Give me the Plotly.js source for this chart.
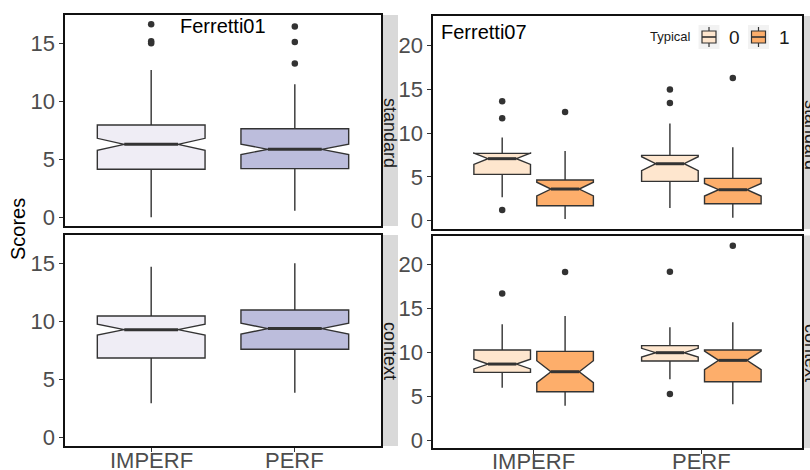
<!DOCTYPE html>
<html>
<head>
<meta charset="utf-8">
<script src="https://cdn.plot.ly/plotly-3.0.1.min.js"></script>
<style>html,body{margin:0;padding:0;background:#fff;}#chart{width:810px;height:470px;}</style>
</head>
<body>
<div id="chart"></div>
<script>
// ---------------- data ----------------
const categories = ['IMPERF', 'PERF'];
const catPos = [1, 2];
const facetRows = ['standard', 'context'];
const typicalLevels = ['0', '1'];
const leftTicks = [0, 5, 10, 15];
const rightTicks = [0, 5, 10, 15, 20];

// Ferretti01 - standard (IMPERF, PERF)
const f01StdQ1 = [4.14, 4.20];
const f01StdMed = [6.29, 5.86];
const f01StdQ3 = [7.96, 7.64];
const f01StdLo = [0.0, 0.57];
const f01StdHi = [12.70, 11.47];
const f01StdNotch = [0.52, 0.45];
const f01StdOutImperf = [16.64, 15.17, 15.0];
const f01StdOutPerf = [16.44, 15.11, 13.25];

// Ferretti01 - context
const f01CtxQ1 = [6.84, 7.59];
const f01CtxMed = [9.28, 9.37];
const f01CtxQ3 = [10.46, 10.98];
const f01CtxLo = [2.93, 3.85];
const f01CtxHi = [14.71, 15.0];
const f01CtxNotch = [0.47, 0.47];

// Ferretti07 - standard, Typical 0 (IMPERF, PERF)
const f07StdT0Q1 = [5.30, 4.50];
const f07StdT0Med = [7.09, 6.51];
const f07StdT0Q3 = [7.70, 7.47];
const f07StdT0Lo = [2.67, 1.45];
const f07StdT0Hi = [9.52, 11.12];
const f07StdT0Notch = [0.65, 0.80];
const f07StdT0OutImperf = [13.64, 11.70, 1.22];
const f07StdT0OutPerf = [15.0, 13.45];
// Ferretti07 - standard, Typical 1
const f07StdT1Q1 = [1.71, 1.94];
const f07StdT1Med = [3.62, 3.54];
const f07StdT1Q3 = [4.65, 4.84];
const f07StdT1Lo = [0.19, 0.34];
const f07StdT1Hi = [7.96, 8.39];
const f07StdT1Notch = [0.78, 0.72];
const f07StdT1OutImperf = [12.42];
const f07StdT1OutPerf = [16.3];

// Ferretti07 - context, Typical 0
const f07CtxT0Q1 = [7.77, 9.05];
const f07CtxT0Med = [8.71, 10.0];
const f07CtxT0Q3 = [10.30, 10.80];
const f07CtxT0Lo = [6.02, 6.97];
const f07CtxT0Hi = [13.22, 12.88];
const f07CtxT0Notch = [0.55, 0.50];
const f07CtxT0OutImperf = [16.74];
const f07CtxT0OutPerf = [19.2, 5.30];
// Ferretti07 - context, Typical 1
const f07CtxT1Q1 = [5.57, 6.70];
const f07CtxT1Med = [7.84, 9.13];
const f07CtxT1Q3 = [10.15, 10.30];
const f07CtxT1Lo = [3.98, 4.13];
const f07CtxT1Hi = [14.17, 13.45];
const f07CtxT1Notch = [1.25, 1.05];
const f07CtxT1OutImperf = [19.17];
const f07CtxT1OutPerf = [22.16];

// ---------------- styles ----------------
const colImperf = '#EFEDF5', colPerf = '#BCBDDC';
const colT0 = '#FEE6CE', colT1 = '#FDAE6B';
const lineCol = '#333333';
const tickCol = '#4D4D4D';
const FONT = 'Arial, "Liberation Sans", sans-serif';
const singleW = 0.75, dodgeW = 0.3375, dodgeOff = 0.1875;

const px = x => x / 810;
const py = y => 1 - y / 470;

const traces = [];
function addBox(xa, ya, pos, w, q1, med, q3, lo, hi, notch, fill) {
  traces.push({
    type: 'box', xaxis: xa, yaxis: ya, x: pos, width: w,
    q1: q1, median: med, q3: q3, lowerfence: lo, upperfence: hi,
    notched: true, notchspan: notch, notchwidth: 0.25,
    whiskerwidth: 0, fillcolor: fill,
    line: {color: lineCol, width: 1.4},
    boxpoints: false, showlegend: false, hoverinfo: 'skip'
  });
  // thicker median line (ggplot fatten) derived from the same stats
  const xs = [], ys = [];
  pos.forEach((p, i) => { xs.push(p - w / 4, p + w / 4, null); ys.push(med[i], med[i], null); });
  traces.push({type: 'scatter', mode: 'lines', xaxis: xa, yaxis: ya, x: xs, y: ys,
    line: {color: lineCol, width: 3}, showlegend: false, hoverinfo: 'skip'});
}
function addOut(xa, ya, p, vals) {
  traces.push({type: 'scatter', mode: 'markers', xaxis: xa, yaxis: ya,
    x: vals.map(() => p), y: vals,
    marker: {color: lineCol, size: 6.5}, showlegend: false, hoverinfo: 'skip'});
}

// Ferretti01 standard (x / y)
addBox('x', 'y', [catPos[0]], singleW, [f01StdQ1[0]], [f01StdMed[0]], [f01StdQ3[0]], [f01StdLo[0]], [f01StdHi[0]], [f01StdNotch[0]], colImperf);
addBox('x', 'y', [catPos[1]], singleW, [f01StdQ1[1]], [f01StdMed[1]], [f01StdQ3[1]], [f01StdLo[1]], [f01StdHi[1]], [f01StdNotch[1]], colPerf);
addOut('x', 'y', catPos[0], f01StdOutImperf);
addOut('x', 'y', catPos[1], f01StdOutPerf);
// Ferretti01 context (x2 / y2)
addBox('x2', 'y2', [catPos[0]], singleW, [f01CtxQ1[0]], [f01CtxMed[0]], [f01CtxQ3[0]], [f01CtxLo[0]], [f01CtxHi[0]], [f01CtxNotch[0]], colImperf);
addBox('x2', 'y2', [catPos[1]], singleW, [f01CtxQ1[1]], [f01CtxMed[1]], [f01CtxQ3[1]], [f01CtxLo[1]], [f01CtxHi[1]], [f01CtxNotch[1]], colPerf);

const posT0 = catPos.map(p => p - dodgeOff);
const posT1 = catPos.map(p => p + dodgeOff);
// Ferretti07 standard (x3 / y3)
addBox('x3', 'y3', posT0, dodgeW, f07StdT0Q1, f07StdT0Med, f07StdT0Q3, f07StdT0Lo, f07StdT0Hi, f07StdT0Notch, colT0);
addBox('x3', 'y3', posT1, dodgeW, f07StdT1Q1, f07StdT1Med, f07StdT1Q3, f07StdT1Lo, f07StdT1Hi, f07StdT1Notch, colT1);
addOut('x3', 'y3', posT0[0], f07StdT0OutImperf);
addOut('x3', 'y3', posT0[1], f07StdT0OutPerf);
addOut('x3', 'y3', posT1[0], f07StdT1OutImperf);
addOut('x3', 'y3', posT1[1], f07StdT1OutPerf);
// Ferretti07 context (x4 / y4)
addBox('x4', 'y4', posT0, dodgeW, f07CtxT0Q1, f07CtxT0Med, f07CtxT0Q3, f07CtxT0Lo, f07CtxT0Hi, f07CtxT0Notch, colT0);
addBox('x4', 'y4', posT1, dodgeW, f07CtxT1Q1, f07CtxT1Med, f07CtxT1Q3, f07CtxT1Lo, f07CtxT1Hi, f07CtxT1Notch, colT1);
addOut('x4', 'y4', posT0[0], f07CtxT0OutImperf);
addOut('x4', 'y4', posT0[1], f07CtxT0OutPerf);
addOut('x4', 'y4', posT1[0], f07CtxT1OutImperf);
addOut('x4', 'y4', posT1[1], f07CtxT1OutPerf);

// ---------------- axes ----------------
function xAx(dom, anchor, showTicks) {
  return {
    domain: dom, anchor: anchor, range: [0.4, 2.6],
    tickvals: catPos, ticktext: categories, showticklabels: false,
    ticks: showTicks ? 'outside' : '', ticklen: 4, tickcolor: lineCol, tickwidth: 1,
    showgrid: false, zeroline: false,
    showline: true, linecolor: '#111', linewidth: 1.6, mirror: true, fixedrange: true
  };
}
function yAx(dom, anchor, range, tv) {
  return {
    domain: dom, anchor: anchor, range: range, tickvals: tv,
    ticks: 'outside', ticklen: 4, tickcolor: lineCol, tickwidth: 1,
    tickfont: {family: FONT, size: 22, color: tickCol},
    showgrid: false, zeroline: false,
    showline: true, linecolor: '#111', linewidth: 1.6, mirror: true, fixedrange: true
  };
}

const LX = [px(65), px(381)], RX = [px(433), px(802)];
const TLY = [py(226), py(15)], BLY = [py(446), py(235)];
const TRY = [py(229), py(16)], BRY = [py(448), py(235.5)];

const shapes = [];
const annotations = [];
// category labels under the bottom panels, placed on the category positions of each x axis
[['x2', 446], ['x4', 447]].forEach(ax => {
  categories.forEach((c, i) => {
    annotations.push({xref: ax[0], yref: 'paper', x: catPos[i], y: py(ax[1]), text: c, showarrow: false,
      xanchor: 'center', yanchor: 'top', font: {family: FONT, size: 22, color: tickCol}});
  });
});
// strips
[[381, 398, 15, 226], [381, 398, 235, 446], [802, 822, 16, 229], [802, 822, 235.5, 448]].forEach(s => {
  shapes.push({type: 'rect', xref: 'paper', yref: 'paper', x0: px(s[0]), x1: px(s[1]), y0: py(s[3]), y1: py(s[2]),
    fillcolor: '#D9D9D9', line: {width: 0}, layer: 'below'});
});
[[390, 133, facetRows[0]], [390, 351, facetRows[1]], [811, 135, facetRows[0]], [811, 353, facetRows[1]]].forEach(a => {
  annotations.push({xref: 'paper', yref: 'paper', x: px(a[0]), y: py(a[1]), text: a[2], textangle: 90,
    showarrow: false, xanchor: 'center', yanchor: 'middle', font: {family: FONT, size: 18, color: '#1A1A1A'}});
});
// panel labels
annotations.push({xref: 'paper', yref: 'paper', x: px(223), y: py(26), text: 'Ferretti01', showarrow: false,
  xanchor: 'center', yanchor: 'middle', font: {family: FONT, size: 20, color: '#000'}});
annotations.push({xref: 'paper', yref: 'paper', x: px(439), y: py(32), text: 'Ferretti07', showarrow: false,
  xanchor: 'left', yanchor: 'middle', font: {family: FONT, size: 20, color: '#000'}});
// y title
annotations.push({xref: 'paper', yref: 'paper', x: px(18), y: py(229), text: 'Scores', textangle: -90, showarrow: false,
  xanchor: 'center', yanchor: 'middle', font: {family: FONT, size: 20, color: '#000'}});

// legend (manual, inside Ferretti07 panel)
annotations.push({xref: 'paper', yref: 'paper', x: px(693), y: py(37), text: 'Typical', showarrow: false,
  xanchor: 'right', yanchor: 'middle', font: {family: FONT, size: 13, color: '#1A1A1A'}});
[[709, colT0, typicalLevels[0]], [758.5, colT1, typicalLevels[1]]].forEach(k => {
  const cx = k[0];
  shapes.push({type: 'rect', xref: 'paper', yref: 'paper', x0: px(cx - 10.5), x1: px(cx + 10.5), y0: py(49), y1: py(25),
    fillcolor: '#F2F2F2', line: {width: 0}});
  shapes.push({type: 'line', xref: 'paper', yref: 'paper', x0: px(cx), x1: px(cx), y0: py(47), y1: py(27),
    line: {color: lineCol, width: 1.2}});
  shapes.push({type: 'rect', xref: 'paper', yref: 'paper', x0: px(cx - 7), x1: px(cx + 7), y0: py(43), y1: py(31),
    fillcolor: k[1], line: {color: lineCol, width: 1.2}});
  shapes.push({type: 'line', xref: 'paper', yref: 'paper', x0: px(cx - 7), x1: px(cx + 7), y0: py(37), y1: py(37),
    line: {color: lineCol, width: 1.6}});
  annotations.push({xref: 'paper', yref: 'paper', x: px(cx + 18), y: py(37.5), text: k[2], showarrow: false,
    xanchor: 'left', yanchor: 'middle', font: {family: FONT, size: 19, color: '#1A1A1A'}});
});

const layout = {
  width: 810, height: 470, margin: {l: 0, r: 0, t: 0, b: 0},
  paper_bgcolor: '#fff', plot_bgcolor: '#fff', showlegend: false, boxmode: 'overlay',
  xaxis: xAx(LX, 'y', false), yaxis: yAx(TLY, 'x', [-0.75, 17.44], leftTicks),
  xaxis2: xAx(LX, 'y2', true), yaxis2: yAx(BLY, 'x2', [-0.75, 17.44], leftTicks),
  xaxis3: xAx(RX, 'y3', false), yaxis3: yAx(TRY, 'x3', [-0.95, 23.4], rightTicks),
  xaxis4: xAx(RX, 'y4', true), yaxis4: yAx(BRY, 'x4', [-0.83, 23.32], rightTicks),
  shapes: shapes, annotations: annotations
};

Plotly.newPlot('chart', traces, layout, {staticPlot: true, displayModeBar: false});
</script>
</body>
</html>
